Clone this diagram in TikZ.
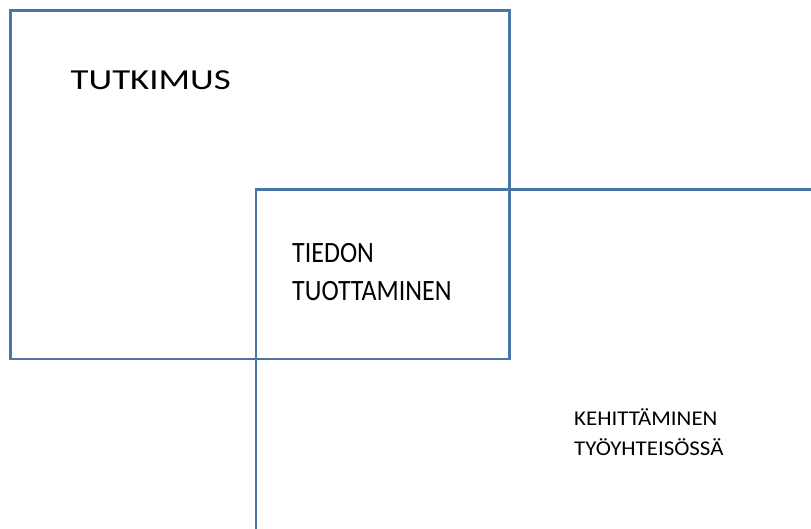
\documentclass[tikz,border=0pt]{standalone}
\usepackage{fontspec}
\setmainfont{Carlito}
\newfontfamily\widefont[FakeStretch=1.27]{Carlito}
\newfontfamily\narrowfont[FakeStretch=0.88]{Carlito}
\newfontfamily\plainfont[FakeStretch=1.09]{Carlito}
\definecolor{frame}{RGB}{74,118,168}
\begin{document}
\begin{tikzpicture}[x=1pt,y=-1pt,
  areabox/.style={draw=frame,line width=2.8pt},
  bigtext/.style={anchor=base west,inner sep=0pt,font=\widefont\fontsize{29}{29}\selectfont},
  midtext/.style={anchor=base west,inner sep=0pt,font=\narrowfont\fontsize{29.5}{29.5}\selectfont},
  smalltext/.style={anchor=base west,inner sep=0pt,font=\plainfont\fontsize{21}{21}\selectfont}]
\useasboundingbox (0,0) rectangle (811,529);
\begin{scope}
  \clip (0,0) rectangle (811,529);
  % research area
  \draw[areabox] (10.5,10.5) rectangle (509.5,359);
  % development area, running past the page edges
  \draw[areabox] (256,189.5) rectangle (840,560);
\end{scope}
\node[bigtext] (tutkimus) at (70.5,89.5) {TUTKIMUS};
\node[midtext] (tiedon) at (292,262.3) {TIEDON};
\node[midtext] (tuottaminen) at (292,300.5) {TUOTTAMINEN};
\node[smalltext] (kehittaminen) at (574,425.5) {KEHITTÄMINEN};
\node[smalltext] (tyoyhteisossa) at (574,455.5) {TYÖYHTEISÖSSÄ};
\end{tikzpicture}
\end{document}
